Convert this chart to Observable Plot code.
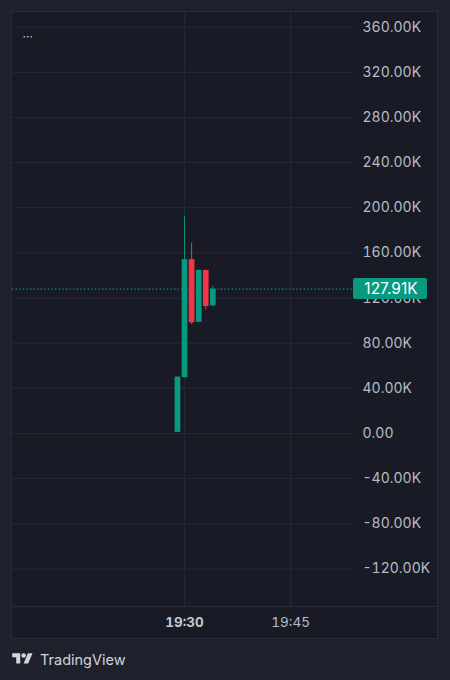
<!DOCTYPE html>
<html><head><meta charset="utf-8">
<script src="https://cdn.jsdelivr.net/npm/d3@7"></script>
<script src="https://cdn.jsdelivr.net/npm/@observablehq/plot@0.6"></script>
<style>
html,body{margin:0;padding:0;background:#1e212b;width:450px;height:680px;overflow:hidden;font-family:Inter,Roboto,sans-serif;}
#panel{position:absolute;left:12px;top:12px;width:425px;height:626px;outline:1px solid #2a2d38;background:#181b25;}
#panel svg{display:block;}
#footer{position:absolute;left:12px;top:650px;height:18px;display:flex;align-items:center;gap:7px;color:#d1d4dc;font-size:14.5px;}
</style></head>
<body>
<div id="panel"></div>
<div id="footer"><svg width="21" height="16" viewBox="0 0 36 28"><path fill="#d1d4dc" d="M14 22H7V11H0V4h14v18zM28 22h-8l7.5-18h8L28 22z"/><circle fill="#d1d4dc" cx="20" cy="8" r="4"/></svg><span>TradingView</span></div>
<script>
// data (values in thousands)
const times  = ["19:29","19:30","19:31","19:32","19:33","19:34"];
const opens  = [1, 49.5, 154, 98.5, 144.5, 113];
const highs  = [50, 192.5, 168.5, 144.5, 144.5, 130.5];
const lows   = [1, 49.5, 96.5, 98.5, 109.5, 113];
const closes = [50, 154, 98, 144.5, 112.5, 127.91];
const yTicks = [-120, -80, -40, 0, 40, 80, 120, 160, 200, 240, 280, 320, 360];
const xTicks = ["19:30", "19:45"];
const lastPrice = 127.91;
const xDomain = ["19:05:40", "19:53:54"];
const yDomain = [-153.3, 373];

const up = "#089981", down = "#f23645";
const parseHM = d3.utcParse("%H:%M"), parseHMS = d3.utcParse("%H:%M:%S");
const candles = times.map((t, i) => ({
  t: parseHM(t), open: opens[i], high: highs[i], low: lows[i], close: closes[i],
  color: closes[i] >= opens[i] ? up : down
}));
const fmtY = v => v === 0 ? "0.00" : `${v.toFixed(2)}K`;
const fmtX = d3.utcFormat("%H:%M");

const chart = Plot.plot({
  width: 425, height: 626,
  marginLeft: 0, marginRight: 84, marginTop: 0, marginBottom: 32,
  style: {background: "#181b25", color: "#b8bbc4", fontFamily: "Inter, Roboto, sans-serif", fontSize: "13px"},
  x: {type: "utc", domain: xDomain.map(parseHMS), label: null},
  y: {domain: yDomain, label: null},
  marks: [
    Plot.gridY(yTicks, {stroke: "#262a35", strokeOpacity: 1}),
    Plot.gridX(xTicks.map(parseHM), {stroke: "#262a35", strokeOpacity: 1}),
    Plot.axisY(yTicks, {anchor: "right", tickSize: 0, tickPadding: 9, tickFormat: fmtY, fontSize: 14, fill: "#b8bbc4", label: null}),
    Plot.axisX([parseHM(xTicks[0])], {anchor: "bottom", tickSize: 0, tickPadding: 11, tickFormat: fmtX, fontSize: 13.5, fontWeight: "bold", fill: "#c3c6ce", label: null}),
    Plot.axisX([parseHM(xTicks[1])], {anchor: "bottom", tickSize: 0, tickPadding: 11, tickFormat: fmtX, fontSize: 13.5, fill: "#b8bbc4", label: null}),
    Plot.ruleY([lastPrice], {stroke: up, strokeWidth: 1.2, strokeDasharray: "1.2,2.4"}),
    Plot.ruleX(candles, {x: "t", y1: "low", y2: "high", stroke: "color", strokeWidth: 1}),
    Plot.ruleX(candles, {x: "t", y1: "open", y2: "close", stroke: "color", strokeWidth: 5.7}),
    Plot.text(["···"], {frameAnchor: "top-left", dx: 10, dy: 20, fill: "#c3c6ce", fontSize: 12})
  ]
});

const svg = d3.select(chart);
// separator between pane and time scale, across full width
const yb = chart.scale("y").apply(yDomain[0]);
svg.append("line").attr("x1", 0).attr("x2", 425).attr("y1", yb + 0.5).attr("y2", yb + 0.5).attr("stroke", "#2a2e39");
// last-price badge on the price scale
const yy = chart.scale("y").apply(lastPrice);
svg.append("rect").attr("x", 341).attr("y", yy - 10.5).attr("width", 74).attr("height", 21).attr("rx", 2).attr("fill", up);
svg.append("text").attr("x", 379).attr("y", yy).attr("dy", "0.35em").attr("text-anchor", "middle")
  .attr("fill", "#ffffff").attr("font-size", 15.5).attr("font-family", "Inter, Roboto, sans-serif")
  .text(`${lastPrice.toFixed(2)}K`);

document.getElementById("panel").appendChild(chart);
</script>
</body></html>
